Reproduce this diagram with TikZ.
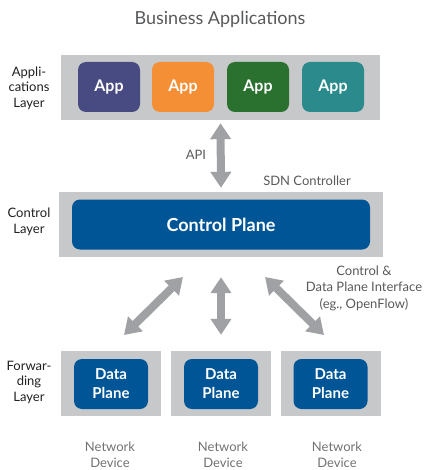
\documentclass[tikz,border=0pt]{standalone}
\usepackage{fontspec}
\setmainfont{Lato}
\usepackage{xcolor}
\usepackage{tikz}
\usetikzlibrary{arrows.meta}
\definecolor{layer}{HTML}{C7C8CA}
\definecolor{plane}{HTML}{005596}
\definecolor{arrowgray}{HTML}{A0A1A4}
\definecolor{note}{HTML}{58595B}
\definecolor{ink}{HTML}{231F20}
\definecolor{apppurple}{HTML}{484A82}
\definecolor{apporange}{HTML}{F58F35}
\definecolor{appgreen}{HTML}{2A702F}
\definecolor{appteal}{HTML}{2A8A8C}
\tikzset{
  layerbox/.style={fill=layer, draw=none, inner sep=0pt},
  appbox/.style={rounded corners=8pt, draw=none, text=white, minimum width=62pt, minimum height=50pt,
    font=\bfseries\fontsize{16}{19}\selectfont},
  planebox/.style={fill=plane, rounded corners=8pt, draw=none, text=white, minimum height=50pt,
    align=center, font=\bfseries\fontsize{15}{19}\selectfont},
  biarrow/.style={draw=arrowgray, line width=8pt,
    {Triangle[width=20pt,length=16pt]}-{Triangle[width=20pt,length=16pt]}},
  layerlbl/.style={text=ink, align=center, font=\fontsize{13}{15.5}\selectfont},
  notelbl/.style={text=note, align=center, font=\fontsize{13}{16.5}\selectfont}
}
\begin{document}
\begin{tikzpicture}[x=1pt, y=-1pt]
  \useasboundingbox (0,0) rectangle (425,470);

  \node[text=note, font=\fontsize{18}{21}\selectfont] (title) at (220,19) {Business Applications};

  % applications layer
  \node[layerbox, minimum width=319pt, minimum height=65pt] (applayer) at (220.5,87.5) {};
  \node[appbox, fill=apppurple] (app1) at (109,87) {App};
  \node[appbox, fill=apporange] (app2) at (183,87) {App};
  \node[appbox, fill=appgreen] (app3) at (258,87) {App};
  \node[appbox, fill=appteal] (app4) at (333,87) {App};
  \node[layerlbl] (applbl) at (29,88) {Appli-\\cations\\Layer};

  % control layer
  \node[layerbox, minimum width=324pt, minimum height=65pt] (ctrllayer) at (221,224.5) {};
  \node[planebox, minimum width=298pt, font=\bfseries\fontsize{18}{21}\selectfont] (ctrl) at (221,224.5) {Control Plane};
  \node[layerlbl] (ctrllbl) at (29,222) {Control\\Layer};

  % forwarding layer
  \foreach \i/\x in {1/111,2/221,3/330.5}{
    \node[layerbox, minimum width=100pt, minimum height=65pt] (dev\i) at (\x,383.5) {};
    \node[planebox, minimum width=74pt] (data\i) at (\x,384) {Data\\Plane};
  }
  \node[layerlbl] (fwdlbl) at (29,382) {Forwar-\\ding\\Layer};
  \node[notelbl, text=note!85] (net1) at (110,455) {Network\\Device};
  \node[notelbl, text=note!85] (net2) at (223,455) {Network\\Device};
  \node[notelbl, text=note!85] (net3) at (337,455) {Network\\Device};

  % interfaces
  \draw[biarrow, shorten <=3pt, shorten >=4pt] (applayer.south) -- (ctrllayer.north);
  \node[notelbl] (api) at (196,155) {API};
  \node[notelbl] (sdn) at (307,181) {SDN Controller};

  \coordinate (l1) at (183,277);
  \coordinate (l2) at (124,335);
  \coordinate (r1) at (265,277);
  \coordinate (r2) at (324,335);
  \draw[biarrow] (l1) -- (l2);
  \draw[biarrow, shorten <=20pt, shorten >=16pt] (ctrllayer.south) -- (dev2.north);
  \draw[biarrow] (r1) -- (r2);
  \node[notelbl] (iface) at (364,288) {Control \&\\Data Plane Interface\\(eg., OpenFlow)};
\end{tikzpicture}
\end{document}
